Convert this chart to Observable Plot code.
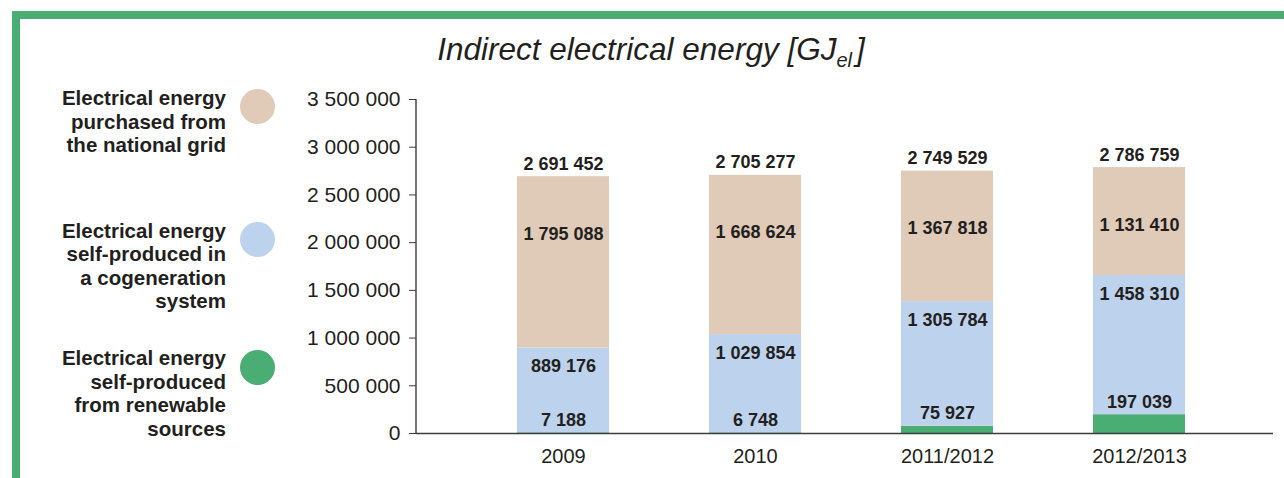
<!DOCTYPE html>
<html>
<head>
<meta charset="utf-8">
<script src="https://cdn.jsdelivr.net/npm/d3@7"></script>
<script src="https://cdn.jsdelivr.net/npm/@observablehq/plot@0.6"></script>
<style>
  html, body { margin: 0; padding: 0; background: #fff; }
  #wrap { position: relative; width: 1284px; height: 478px; overflow: hidden; font-family: "Liberation Sans", Arial, Helvetica, sans-serif; color: #231f20; }
  .bar-top { position: absolute; left: 12px; right: 0; top: 11px; height: 8px; background: #4aad73; }
  .bar-left { position: absolute; left: 12px; width: 8px; top: 11px; bottom: 0; background: #4aad73; }
  #title { position: absolute; top: 34px; left: 651px; transform: translateX(-50%); font-size: 31.5px; line-height: 31.5px; font-style: italic; white-space: nowrap; }
  #title sub { font-size: 20px; vertical-align: -7px; line-height: 0; margin-right: 4px; }
  .leg { position: absolute; right: 1058px; text-align: right; font-weight: bold; font-size: 20.5px; line-height: 23.5px; white-space: nowrap; }
  .dot { position: absolute; width: 35px; height: 35px; border-radius: 50%; left: 239.5px; }
  #chart { position: absolute; left: 0; top: 0; }
</style>
</head>
<body>
<div id="wrap">
  <div id="chart"></div>
  <div class="bar-top"></div>
  <div class="bar-left"></div>
  <div id="title">Indirect electrical energy [GJ<sub>el</sub>]</div>
  <div id="legend"></div>
</div>
<script>
const years = ["2009", "2010", "2011/2012", "2012/2013"];
const seriesNames = ["renewable", "cogeneration", "grid"];
const renewable = [7188, 6748, 75927, 197039];
const cogeneration = [889176, 1029854, 1305784, 1458310];
const grid = [1795088, 1668624, 1367818, 1131410];
const totals = [2691452, 2705277, 2749529, 2786759];
const yTicks = [0, 500000, 1000000, 1500000, 2000000, 2500000, 3000000, 3500000];
const colors = ["#4aad73", "#bdd3ed", "#e0cbb9"];
const legendLabels = [
  ["Electrical energy", "purchased from", "the national grid"],
  ["Electrical energy", "self-produced in", "a cogeneration", "system"],
  ["Electrical energy", "self-produced", "from renewable", "sources"]
];
const legendColors = [colors[2], colors[1], colors[0]];

const fmt = d => d3.format(",")(d).replace(/,/g, " ");

// long-format table for stacking
const table = [];
years.forEach((yr, i) => {
  table.push({year: yr, series: "renewable", value: renewable[i]});
  table.push({year: yr, series: "cogeneration", value: cogeneration[i]});
  table.push({year: yr, series: "grid", value: grid[i]});
});
const labels = years.map((yr, i) => ({
  year: yr,
  total: totals[i],
  gridTop: totals[i],
  cogTop: renewable[i] + cogeneration[i],
  ren: renewable[i],
  tLabel: fmt(totals[i]),
  gLabel: fmt(grid[i]),
  cLabel: fmt(cogeneration[i]),
  rLabel: fmt(renewable[i])
}));

const txt = {fontSize: 18, fontWeight: "bold", fill: "#231f20", lineAnchor: "bottom", textAnchor: "middle"};

const plot = Plot.plot({
  width: 1284,
  height: 478,
  marginLeft: 416,
  marginRight: 11,
  marginTop: 99,
  marginBottom: 45,
  style: {fontFamily: "'Liberation Sans', Arial, Helvetica, sans-serif", background: "transparent", color: "#231f20"},
  x: {domain: years, range: [466.5, 1234.8], paddingInner: 0.52, paddingOuter: 0.26, align: 0.5, label: null},
  y: {domain: [0, 3500000], label: null},
  color: {domain: seriesNames, range: colors},
  marks: [
    Plot.barY(table, {x: "year", y: "value", fill: "series"}),
    Plot.ruleY([0], {stroke: "#3d3d3d", strokeWidth: 1.4}),
    (index, scales, values, dimensions) => {
      const l = document.createElementNS("http://www.w3.org/2000/svg", "line");
      const x = dimensions.marginLeft;
      l.setAttribute("x1", x); l.setAttribute("x2", x);
      l.setAttribute("y1", scales.y(yTicks[yTicks.length - 1]));
      l.setAttribute("y2", scales.y(0));
      l.setAttribute("stroke", "#3d3d3d");
      l.setAttribute("stroke-width", 1.4);
      return l;
    },
    Plot.axisY({ticks: yTicks, tickFormat: fmt, tickSize: 7, tickPadding: 9, fontSize: 21, stroke: "#3d3d3d", fill: "#231f20", label: null}),
    Plot.axisX({tickSize: 0, tickPadding: 15, fontSize: 20, fill: "#231f20", label: null}),
    Plot.text(labels, {...txt, x: "year", y: "total", text: "tLabel", dy: -7}),
    Plot.text(labels, {...txt, x: "year", y: "gridTop", text: "gLabel", dy: 63}),
    Plot.text(labels, {...txt, x: "year", y: "cogTop", text: "cLabel", dy: 24}),
    Plot.text(labels, {...txt, x: "year", y: "ren", text: "rLabel", dy: -7})
  ]
});
document.getElementById("chart").appendChild(plot);

// legend
const legendTops = [86.3, 218.6, 346.3];
const dotCenters = [106.5, 239.5, 367];
const legend = document.getElementById("legend");
legendLabels.forEach((lines, i) => {
  const d = document.createElement("div");
  d.className = "leg";
  d.style.top = legendTops[i] + "px";
  d.innerHTML = lines.join("<br>");
  legend.appendChild(d);
  const c = document.createElement("div");
  c.className = "dot";
  c.style.top = (dotCenters[i] - 17.5) + "px";
  c.style.background = legendColors[i];
  legend.appendChild(c);
});
</script>
</body>
</html>
